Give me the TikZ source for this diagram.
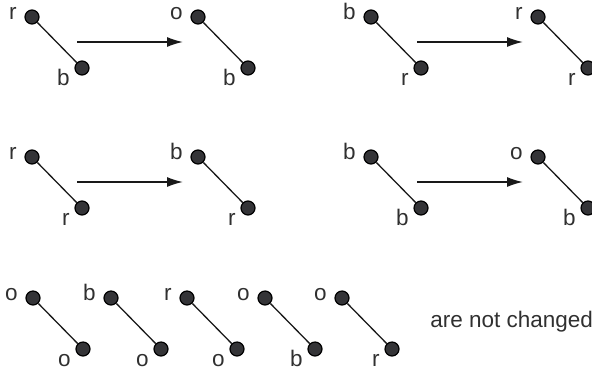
\documentclass[tikz,border=0pt]{standalone}
\usepackage{fontspec}
\setmainfont{Liberation Sans}
\usepackage{tikz}
\usetikzlibrary{arrows.meta,positioning}
\definecolor{dotgray}{RGB}{52,52,55}
\definecolor{textgray}{RGB}{48,48,48}

% one bond: name, x, y of upper atom, upper label, lower label
\newcommand{\bond}[5]{%
  \node[atom] (#1t) at (#2,#3) {};
  \node[atom] (#1b) at (#2+50,#3+51) {};
  \draw[bondline] (#1t) -- (#1b);
  \node[lbl] (#1tl) at (#2-15,#3+2) {#4};
  \node[lbl] (#1bl) at (#2+38,#3+68) {#5};
}

\begin{document}
\begin{tikzpicture}[x=0.5pt,y=-0.5pt,
  atom/.style={circle,draw=black,fill=dotgray,line width=0.6pt,minimum size=7pt,inner sep=0pt},
  bondline/.style={line width=0.65pt,draw=black!90},
  lbl/.style={anchor=base east,inner sep=0pt,text=textgray,font=\fontsize{11.25}{13}\selectfont},
  arr/.style={line width=0.75pt,draw=black!90,-{Latex[length=8pt,width=5pt]}}]
\useasboundingbox (0,0) rectangle (592,370);
\clip (0,0) rectangle (592,370);
% row 1
\bond{p1}{32}{17}{r}{b}
\bond{q1}{198}{17}{o}{b}
\coordinate (a1s) at (77,42); \coordinate (a1e) at (183,42);
\draw[arr] (a1s) -- (a1e);
\bond{p2}{371}{17}{b}{r}
\bond{q2}{538}{17}{r}{r}
\coordinate (a2s) at (417,42); \coordinate (a2e) at (523,42);
\draw[arr] (a2s) -- (a2e);
% row 2
\bond{p3}{32}{157}{r}{r}
\bond{q3}{198}{157}{b}{r}
\coordinate (a3s) at (77,182); \coordinate (a3e) at (183,182);
\draw[arr] (a3s) -- (a3e);
\bond{p4}{371}{157}{b}{b}
\bond{q4}{538}{157}{o}{b}
\coordinate (a4s) at (417,182); \coordinate (a4e) at (523,182);
\draw[arr] (a4s) -- (a4e);
% row 3
\bond{u1}{33}{298}{o}{o}
\bond{u2}{111}{298}{b}{o}
\bond{u3}{187}{298}{r}{o}
\bond{u4}{265}{298}{o}{b}
\bond{u5}{342}{298}{o}{r}
\node[inner sep=0pt,anchor=base west,text=textgray,font=\fontsize{11.25}{13}\selectfont] (note) at (430,327) {are not changed};
\end{tikzpicture}
\end{document}
